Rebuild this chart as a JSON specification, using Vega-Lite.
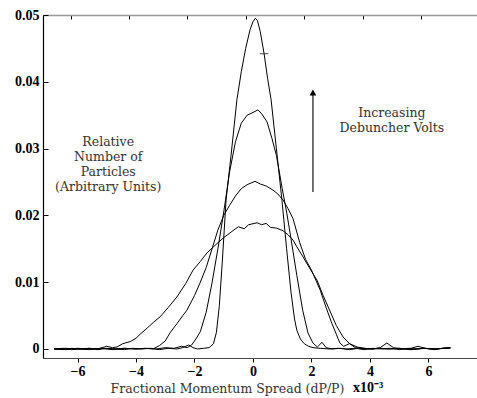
{
  "$schema": "https://vega.github.io/schema/vega-lite/v6.json",
  "width": 434,
  "height": 343,
  "autosize": "none",
  "padding": {"left": 43, "top": 15, "right": 0, "bottom": 40},
  "background": "white",
  "config": {"view": {"stroke": null}},
  "datasets": {
    "curves": [
      {"s":"a","x":-6.8,"y":0.0},{"s":"a","x":-6.5,"y":0.0001},{"s":"a","x":-6.2,"y":-0.0001},{"s":"a","x":-5.9,"y":0.0},{"s":"a","x":-5.6,"y":0.0001},{"s":"a","x":-5.3,"y":-0.0001},{"s":"a","x":-5.0,"y":0.0001},{"s":"a","x":-4.7,"y":0.0},{"s":"a","x":-4.4,"y":-0.0001},{"s":"a","x":-4.1,"y":0.0001},{"s":"a","x":-3.8,"y":0.0},{"s":"a","x":-3.5,"y":0.0001},{"s":"a","x":-3.2,"y":-0.0001},{"s":"a","x":-2.9,"y":0.0001},{"s":"a","x":-2.6,"y":0.0},{"s":"a","x":-2.4,"y":0.0002},{"s":"a","x":-2.2,"y":0.0006},{"s":"a","x":-2.05,"y":0.0002},{"s":"a","x":-1.9,"y":0.0},{"s":"a","x":-1.7,"y":0.0001},{"s":"a","x":-1.5,"y":0.0002},{"s":"a","x":-1.35,"y":0.0008},{"s":"a","x":-1.25,"y":0.0025},{"s":"a","x":-1.15,"y":0.0065},{"s":"a","x":-1.05,"y":0.013},{"s":"a","x":-0.92,"y":0.0223},{"s":"a","x":-0.75,"y":0.029},{"s":"a","x":-0.55,"y":0.0373},{"s":"a","x":-0.4,"y":0.0415},{"s":"a","x":-0.25,"y":0.045},{"s":"a","x":-0.1,"y":0.0478},{"s":"a","x":0.0,"y":0.049},{"s":"a","x":0.08,"y":0.0495},{"s":"a","x":0.15,"y":0.0492},{"s":"a","x":0.25,"y":0.0475},{"s":"a","x":0.38,"y":0.0442},{"s":"a","x":0.5,"y":0.0405},{"s":"a","x":0.62,"y":0.0373},{"s":"a","x":0.8,"y":0.03},{"s":"a","x":0.99,"y":0.0223},{"s":"a","x":1.15,"y":0.015},{"s":"a","x":1.3,"y":0.0085},{"s":"a","x":1.42,"y":0.0045},{"s":"a","x":1.5,"y":0.0028},{"s":"a","x":1.62,"y":0.0015},{"s":"a","x":1.75,"y":0.0008},{"s":"a","x":1.9,"y":0.0004},{"s":"a","x":2.05,"y":0.0002},{"s":"a","x":2.3,"y":0.0001},{"s":"a","x":2.6,"y":0.0},{"s":"a","x":2.9,"y":0.0001},{"s":"a","x":3.2,"y":0.0},{"s":"a","x":3.5,"y":0.0001},{"s":"a","x":3.8,"y":-0.0001},{"s":"a","x":4.1,"y":0.0001},{"s":"a","x":4.4,"y":0.0},{"s":"a","x":4.7,"y":0.0001},{"s":"a","x":5.0,"y":-0.0001},{"s":"a","x":5.3,"y":0.0001},{"s":"a","x":5.6,"y":0.0},{"s":"a","x":5.9,"y":0.0001},{"s":"a","x":6.2,"y":-0.0001},{"s":"a","x":6.5,"y":0.0001},{"s":"a","x":6.75,"y":0.0002},

      {"s":"b","x":-6.8,"y":0.0},{"s":"b","x":-6.4,"y":-0.0001},{"s":"b","x":-6.0,"y":0.0001},{"s":"b","x":-5.6,"y":0.0},{"s":"b","x":-5.2,"y":0.0001},{"s":"b","x":-4.8,"y":-0.0001},{"s":"b","x":-4.4,"y":0.0001},{"s":"b","x":-4.0,"y":0.0},{"s":"b","x":-3.6,"y":0.0001},{"s":"b","x":-3.3,"y":0.0},{"s":"b","x":-3.0,"y":0.0002},{"s":"b","x":-2.7,"y":0.0001},{"s":"b","x":-2.45,"y":0.0004},{"s":"b","x":-2.25,"y":0.0002},{"s":"b","x":-2.1,"y":0.0006},{"s":"b","x":-1.95,"y":0.0015},{"s":"b","x":-1.8,"y":0.0026},{"s":"b","x":-1.6,"y":0.0055},{"s":"b","x":-1.4,"y":0.0099},{"s":"b","x":-1.2,"y":0.015},{"s":"b","x":-1.0,"y":0.0205},{"s":"b","x":-0.8,"y":0.0265},{"s":"b","x":-0.6,"y":0.031},{"s":"b","x":-0.4,"y":0.0338},{"s":"b","x":-0.2,"y":0.035},{"s":"b","x":0.0,"y":0.0354},{"s":"b","x":0.17,"y":0.0358},{"s":"b","x":0.3,"y":0.0352},{"s":"b","x":0.48,"y":0.034},{"s":"b","x":0.65,"y":0.0315},{"s":"b","x":0.8,"y":0.029},{"s":"b","x":1.0,"y":0.024},{"s":"b","x":1.15,"y":0.0205},{"s":"b","x":1.3,"y":0.0165},{"s":"b","x":1.5,"y":0.011},{"s":"b","x":1.7,"y":0.0058},{"s":"b","x":1.88,"y":0.0024},{"s":"b","x":2.05,"y":0.0009},{"s":"b","x":2.2,"y":0.0003},{"s":"b","x":2.36,"y":0.001},{"s":"b","x":2.5,"y":0.0002},{"s":"b","x":2.7,"y":0.0},{"s":"b","x":3.0,"y":0.0001},{"s":"b","x":3.3,"y":-0.0001},{"s":"b","x":3.6,"y":0.0001},{"s":"b","x":4.0,"y":0.0},{"s":"b","x":4.3,"y":0.0001},{"s":"b","x":4.6,"y":0.0},{"s":"b","x":5.0,"y":0.0001},{"s":"b","x":5.4,"y":-0.0001},{"s":"b","x":5.8,"y":0.0001},{"s":"b","x":6.2,"y":0.0},{"s":"b","x":6.5,"y":0.0001},{"s":"b","x":6.75,"y":0.0001},

      {"s":"c","x":-6.8,"y":0.0},{"s":"c","x":-6.4,"y":0.0001},{"s":"c","x":-6.0,"y":0.0},{"s":"c","x":-5.6,"y":-0.0001},{"s":"c","x":-5.2,"y":0.0001},{"s":"c","x":-4.8,"y":0.0},{"s":"c","x":-4.4,"y":0.0001},{"s":"c","x":-4.0,"y":0.0},{"s":"c","x":-3.7,"y":0.0001},{"s":"c","x":-3.42,"y":0.0},{"s":"c","x":-3.2,"y":0.0005},{"s":"c","x":-3.0,"y":0.0012},{"s":"c","x":-2.84,"y":0.0024},{"s":"c","x":-2.6,"y":0.0038},{"s":"c","x":-2.4,"y":0.005},{"s":"c","x":-2.26,"y":0.0058},{"s":"c","x":-2.0,"y":0.008},{"s":"c","x":-1.81,"y":0.0099},{"s":"c","x":-1.6,"y":0.0122},{"s":"c","x":-1.4,"y":0.015},{"s":"c","x":-1.2,"y":0.0178},{"s":"c","x":-1.0,"y":0.02},{"s":"c","x":-0.8,"y":0.0215},{"s":"c","x":-0.6,"y":0.0229},{"s":"c","x":-0.4,"y":0.024},{"s":"c","x":-0.2,"y":0.0246},{"s":"c","x":0.07,"y":0.0251},{"s":"c","x":0.25,"y":0.0247},{"s":"c","x":0.45,"y":0.0244},{"s":"c","x":0.68,"y":0.0238},{"s":"c","x":0.85,"y":0.0232},{"s":"c","x":1.03,"y":0.0223},{"s":"c","x":1.2,"y":0.021},{"s":"c","x":1.37,"y":0.0195},{"s":"c","x":1.6,"y":0.0159},{"s":"c","x":1.8,"y":0.0134},{"s":"c","x":2.0,"y":0.0118},{"s":"c","x":2.3,"y":0.0088},{"s":"c","x":2.5,"y":0.0062},{"s":"c","x":2.7,"y":0.0038},{"s":"c","x":2.85,"y":0.0022},{"s":"c","x":2.97,"y":0.0009},{"s":"c","x":3.1,"y":0.0004},{"s":"c","x":3.3,"y":0.0008},{"s":"c","x":3.5,"y":0.0002},{"s":"c","x":3.8,"y":0.0001},{"s":"c","x":4.1,"y":0.0},{"s":"c","x":4.4,"y":0.0001},{"s":"c","x":4.7,"y":0.0},{"s":"c","x":5.0,"y":0.0001},{"s":"c","x":5.4,"y":-0.0001},{"s":"c","x":5.8,"y":0.0001},{"s":"c","x":6.2,"y":0.0},{"s":"c","x":6.5,"y":0.0001},{"s":"c","x":6.75,"y":0.0002},

      {"s":"d","x":-6.8,"y":0.0},{"s":"d","x":-6.5,"y":-0.0001},{"s":"d","x":-6.2,"y":0.0001},{"s":"d","x":-5.9,"y":0.0},{"s":"d","x":-5.6,"y":0.0001},{"s":"d","x":-5.3,"y":0.0},{"s":"d","x":-5.0,"y":0.0004},{"s":"d","x":-4.8,"y":0.0002},{"s":"d","x":-4.65,"y":0.0003},{"s":"d","x":-4.45,"y":0.0008},{"s":"d","x":-4.2,"y":0.0011},{"s":"d","x":-4.0,"y":0.0016},{"s":"d","x":-3.86,"y":0.0022},{"s":"d","x":-3.6,"y":0.0032},{"s":"d","x":-3.4,"y":0.004},{"s":"d","x":-3.18,"y":0.0048},{"s":"d","x":-2.9,"y":0.0062},{"s":"d","x":-2.6,"y":0.0078},{"s":"d","x":-2.3,"y":0.0098},{"s":"d","x":-2.05,"y":0.0118},{"s":"d","x":-1.8,"y":0.0131},{"s":"d","x":-1.57,"y":0.0144},{"s":"d","x":-1.3,"y":0.0155},{"s":"d","x":-1.02,"y":0.0166},{"s":"d","x":-0.75,"y":0.0175},{"s":"d","x":-0.5,"y":0.0183},{"s":"d","x":-0.3,"y":0.018},{"s":"d","x":-0.15,"y":0.0186},{"s":"d","x":0.14,"y":0.0189},{"s":"d","x":0.3,"y":0.0186},{"s":"d","x":0.45,"y":0.0188},{"s":"d","x":0.6,"y":0.0182},{"s":"d","x":0.8,"y":0.0181},{"s":"d","x":1.03,"y":0.0177},{"s":"d","x":1.2,"y":0.0171},{"s":"d","x":1.37,"y":0.0163},{"s":"d","x":1.5,"y":0.0153},{"s":"d","x":1.71,"y":0.0138},{"s":"d","x":1.95,"y":0.012},{"s":"d","x":2.19,"y":0.0103},{"s":"d","x":2.4,"y":0.008},{"s":"d","x":2.6,"y":0.006},{"s":"d","x":2.85,"y":0.0035},{"s":"d","x":3.08,"y":0.0018},{"s":"d","x":3.3,"y":0.0008},{"s":"d","x":3.56,"y":0.0003},{"s":"d","x":3.8,"y":0.0001},{"s":"d","x":4.1,"y":0.0},{"s":"d","x":4.35,"y":0.0002},{"s":"d","x":4.58,"y":0.0009},{"s":"d","x":4.8,"y":0.0002},{"s":"d","x":5.1,"y":0.0},{"s":"d","x":5.4,"y":0.0001},{"s":"d","x":5.64,"y":0.0004},{"s":"d","x":5.9,"y":0.0001},{"s":"d","x":6.2,"y":0.0},{"s":"d","x":6.5,"y":0.0001},{"s":"d","x":6.75,"y":0.0002}
    ]
  },
  "layer": [
    {
      "data": {"name": "curves"},
      "mark": {"type": "line", "color": "black", "strokeWidth": 1},
      "encoding": {
        "x": {
          "field": "x", "type": "quantitative",
          "scale": {"domain": [-7.18, 7.66], "nice": false, "zero": false},
          "axis": {
            "values": [-6, -4, -2, 0, 2, 4, 6],
            "grid": false,
            "domainColor": "#444", "domainWidth": 1.2,
            "tickColor": "black", "tickSize": 4,
            "labelFont": "Liberation Serif", "labelFontWeight": "bold", "labelFontSize": 14, "labelColor": "black", "labelPadding": 2,
            "title": "Fractional Momentum Spread (dP/P)",
            "titleFont": "DejaVu Serif", "titleFontWeight": "normal", "titleFontSize": 12.5, "titleColor": "#333",
            "titleX": 184, "titleY": 30, "titleAlign": "center", "titleBaseline": "middle"
          }
        },
        "y": {
          "field": "y", "type": "quantitative",
          "scale": {"domain": [-0.00135, 0.05], "nice": false, "zero": false},
          "axis": {
            "values": [0, 0.01, 0.02, 0.03, 0.04, 0.05],
            "labelExpr": "datum.value == 0 ? '0' : format(datum.value, '.2f')",
            "grid": false,
            "domainColor": "black", "domainWidth": 1.2,
            "tickColor": "black", "tickSize": -5,
            "labelFont": "Liberation Serif", "labelFontWeight": "bold", "labelFontSize": 14, "labelColor": "black", "labelPadding": 9,
            "title": null
          }
        },
        "detail": {"field": "s"}
      }
    },
    {
      "data": {"values": [{"x": 0.38, "y": 0.0442}]},
      "mark": {"type": "point", "shape": "stroke", "size": 70, "color": "black", "strokeWidth": 1},
      "encoding": {
        "x": {"field": "x", "type": "quantitative",
          "axis": {"orient": "top", "values": [-6, -4, -2, 0, 2, 4, 6], "labels": false, "grid": false, "title": null,
            "domainColor": "#999", "domainWidth": 1.5, "tickColor": "black", "tickSize": -4, "tickOffset": -7}},
        "y": {"field": "y", "type": "quantitative", "axis": null}
      }
    },
    {
      "data": {"values": [{"x": 2.05, "y": 0.0235, "y2": 0.0382}]},
      "mark": {"type": "rule", "color": "#444", "strokeWidth": 1.5},
      "encoding": {
        "x": {"field": "x", "type": "quantitative", "axis": null},
        "y": {"field": "y", "type": "quantitative", "axis": null},
        "y2": {"field": "y2"}
      }
    },
    {
      "data": {"values": [{"x": 2.05, "y": 0.0384}]},
      "mark": {"type": "point", "shape": "triangle-up", "size": 45, "filled": true, "color": "black", "opacity": 1},
      "encoding": {
        "x": {"field": "x", "type": "quantitative", "axis": null},
        "y": {"field": "y", "type": "quantitative", "axis": null}
      }
    },
    {
      "data": {"values": [
        {"x": -4.95, "y": 0.0310, "t": ["Relative", "Number of", "Particles", "(Arbitrary Units)"]},
        {"x": 4.75, "y": 0.0353, "t": ["Increasing", "Debuncher Volts"]}
      ]},
      "mark": {"type": "text", "font": "DejaVu Serif", "fontSize": 12.5, "color": "#333", "align": "center", "baseline": "middle", "lineHeight": 15},
      "encoding": {
        "x": {"field": "x", "type": "quantitative", "axis": null},
        "y": {"field": "y", "type": "quantitative", "axis": null},
        "text": {"field": "t"}
      }
    },
    {
      "data": {"values": [{"x": 3.42, "y": -0.0058, "t": "x10⁻³"}]},
      "mark": {"type": "text", "font": "Liberation Serif", "fontWeight": "bold", "fontSize": 14, "color": "black", "align": "left", "baseline": "middle"},
      "encoding": {
        "x": {"field": "x", "type": "quantitative", "axis": null},
        "y": {"field": "y", "type": "quantitative", "axis": null},
        "text": {"field": "t"}
      }
    }
  ],
  "resolve": {"axis": {"x": "independent", "y": "independent"}}
}
